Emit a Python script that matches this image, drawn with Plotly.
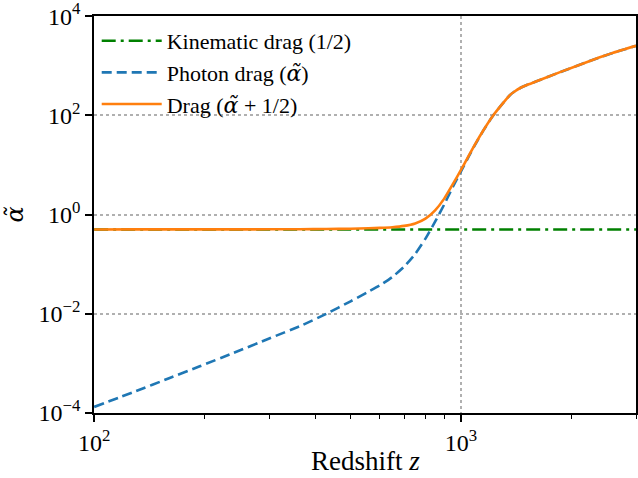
import plotly.graph_objects as go

# Data
redshift = [100, 130, 160, 194, 240, 300, 364, 430, 500, 560, 601, 650, 700,
            750, 800, 850, 900, 950, 1000, 1050, 1091, 1150, 1225, 1300, 1361,
            1400, 1450, 1511, 1600, 1862, 2293, 2600, 3000]
photon_drag = [1.32e-4, 2.75e-4, 5.0e-4, 8.7e-4, 1.62e-3, 3.16e-3, 5.62e-3,
               1.0e-2, 1.78e-2, 2.79e-2, 3.72e-2, 5.5e-2, 8.91e-2, 0.160,
               0.326, 0.716, 1.59, 3.59, 7.41, 14.8, 25.1, 49.0, 100.0, 174.0,
               257.0, 302.0, 355.0, 407.0, 479.0, 741.0, 1318.0, 1820.0, 2512.0]
kinematic_value = 0.5
kinematic_z = [100, 3000]
kinematic_drag = [kinematic_value, kinematic_value]
total_drag = [a + kinematic_value for a in photon_drag]

x_ticks = [100, 1000]
x_ticktext = ["10<sup>2</sup>", "10<sup>3</sup>"]
x_minor = [200, 300, 400, 500, 600, 700, 800, 900, 2000, 3000]
y_ticks = [1e-4, 1e-2, 1, 1e2, 1e4]
y_ticktext = ["10<sup>\u22124</sup>", "10<sup>\u22122</sup>", "10<sup>0</sup>",
              "10<sup>2</sup>", "10<sup>4</sup>"]

FONT = "Liberation Serif"
ALPHA = '<span style="font-family:DejaVu Serif"><i>\u03b1\u0303</i></span>'

fig = go.Figure()
fig.add_trace(go.Scatter(
    x=kinematic_z, y=kinematic_drag, mode="lines",
    name="Kinematic drag (1/2)",
    line=dict(color="#008000", width=2.6, dash="14px,5px,3px,5px")))
fig.add_trace(go.Scatter(
    x=redshift, y=photon_drag, mode="lines",
    name="Photon drag (" + ALPHA + ")",
    line=dict(color="#1f77b4", width=2.6, dash="10px,5px", shape="spline", smoothing=0.5)))
fig.add_trace(go.Scatter(
    x=redshift, y=total_drag, mode="lines",
    name="Drag (" + ALPHA + " + 1/2)",
    line=dict(color="#ff7f0e", width=2.6, shape="spline", smoothing=0.5)))

fig.update_layout(
    width=638, height=478,
    margin=dict(l=94, r=2, t=16, b=65, autoexpand=False),
    paper_bgcolor="white", plot_bgcolor="white",
    font=dict(family=FONT, color="black", size=24),
    showlegend=True,
    legend=dict(x=0.005, y=0.99, xanchor="left", yanchor="top",
                bgcolor="rgba(0,0,0,0)", borderwidth=0, itemwidth=60,
                font=dict(family=FONT, size=22), tracegroupgap=0),
    annotations=[
        dict(text="Redshift <i>z</i>", xref="paper", yref="paper", x=0.5, y=0,
             xanchor="center", yanchor="middle", yshift=-48, showarrow=False,
             font=dict(family=FONT, size=27)),
        dict(text=ALPHA, xref="paper", yref="paper", x=0, y=0.5,
             xanchor="center", yanchor="middle", xshift=-80, showarrow=False,
             textangle=-90, font=dict(family=FONT, size=24)),
    ],
)

fig.update_xaxes(
    type="log", range=[1.9995, 3.4771],
    tickmode="array", tickvals=x_ticks, ticktext=x_ticktext,
    ticks="outside", ticklen=7, tickwidth=1.5, tickcolor="black",
    minor=dict(tickmode="array", tickvals=x_minor, ticks="outside",
               ticklen=4, tickwidth=1.2, tickcolor="black", showgrid=False),
    showline=True, linecolor="black", linewidth=1.6, mirror=True,
    showgrid=True, gridcolor="#b0b0b0", griddash="dot", gridwidth=1.5,
    tickfont=dict(size=24), automargin=False, ticklabeloverflow="allow",
    zeroline=False,
)
fig.update_yaxes(
    type="log", range=[-4.002, 4.002],
    tickmode="array", tickvals=y_ticks, ticktext=y_ticktext,
    ticks="outside", ticklen=7, tickwidth=1.5, tickcolor="black",
    showline=True, linecolor="black", linewidth=1.6, mirror=True,
    showgrid=True, gridcolor="#b0b0b0", griddash="dot", gridwidth=1.5,
    tickfont=dict(size=24), automargin=False, ticklabeloverflow="allow",
    zeroline=False,
)

fig.write_html("out.html", config={"displayModeBar": False},
               post_script="document.body.style.margin='0';document.body.style.padding='0';")
